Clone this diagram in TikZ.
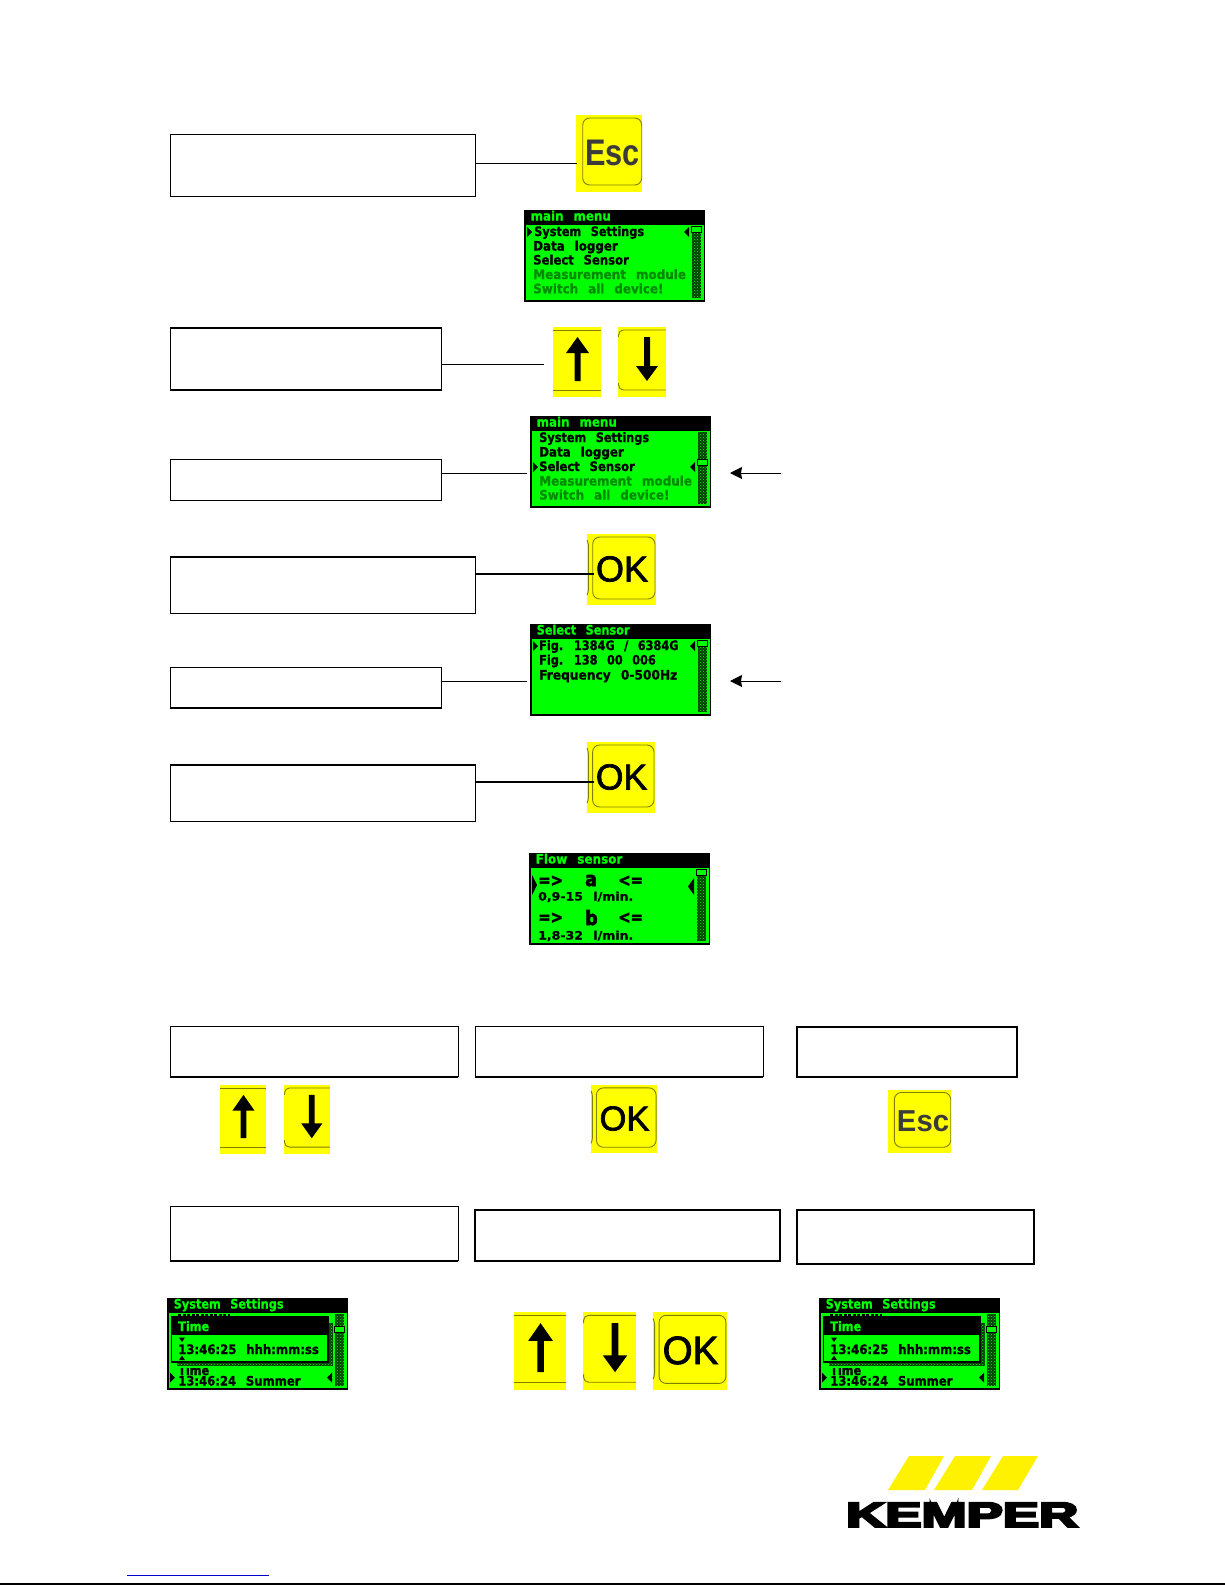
\documentclass[tikz,border=0pt]{standalone}
\usepackage{fontspec}
\setmainfont{Liberation Sans}
\newfontfamily\lcdf[UprightFont=* Bold,FakeBold=1,FakeStretch=.87,WordSpace=2.4]{DejaVu Sans}
\newfontfamily\lcdb[UprightFont=* Bold,FakeBold=3,FakeStretch=.87]{DejaVu Sans}
\newfontfamily\logof[UprightFont=* Bold,FakeBold=6]{Liberation Sans}
\newfontfamily\keyf[FakeBold=2]{Liberation Sans}
\newfontfamily\escf[UprightFont=* Bold]{Liberation Sans}
\usetikzlibrary{arrows.meta,patterns}
\definecolor{lcdgreen}{HTML}{00FF00}
\definecolor{lcddim}{HTML}{008C00}
\definecolor{trackdark}{HTML}{003C00}
\definecolor{keyyellow}{HTML}{FFFF00}
\definecolor{keyline}{HTML}{7F7F00}
\definecolor{logoyellow}{HTML}{FFF200}
\newcounter{tc}
\tikzset{
  label box/.style={draw=black,line width=1pt,fill=white,anchor=north west,inner sep=0pt,outer sep=0pt},
  heavy box/.style={draw=black,line width=2pt,fill=white,anchor=north west,inner sep=0pt,outer sep=0pt},
  conn/.style={draw=black,line width=1pt},
  thick conn/.style={draw=black,line width=2pt},
  edge heavy/.style={draw=black,line width=2pt,line cap=square},
  ptr/.style={draw=black,line width=1pt,-{Stealth[length=12pt,width=12pt,inset=1pt]}},
  key bg/.style={fill=keyyellow,anchor=north west,inner sep=0pt,transform shape},
  key outline/.style={draw=keyline,line width=0.9pt},
  lcd frame/.style={fill=black,anchor=north west,inner sep=0pt,minimum width=181pt,minimum height=91.5pt},
  lcd text/.style={anchor=base west,inner sep=0pt,yshift=1pt,font=\lcdf\fontsize{13}{13}\selectfont},
}
% label box: name, x0, y0, x1, y1
\newcommand\lbox[5]{\node[label box,minimum width=#4-#2,minimum height=#5-#3] (#1) at (#2,#3) {};}
\newcommand\hvbox[5]{\node[heavy box,minimum width=#4-#2,minimum height=#5-#3] (#1) at (#2,#3) {};}
\newcommand\topheavy[1]{\draw[edge heavy] (#1.north west)--(#1.north east);}
\newcommand\botheavy[1]{\draw[edge heavy] (#1.south west)--(#1.south east);}
% LCD text: x, baseline, colour, text
\newcommand\lt[4]{\stepcounter{tc}\node[lcd text,text=#3] (t\arabic{tc}) at (#1,#2) {#4};}
\newcommand\ls[2]{\scalebox{#1}[1]{#2}}
\newcommand\mleft[1]{\fill[black] (3,#1-5)--(8,#1)--(3,#1+5)--cycle;}
\newcommand\mright[1]{\fill[black] (165,#1-5)--(160,#1)--(165,#1+5)--cycle;}
\newcommand\dotted[4]{\fill[trackdark] (#1,#2) rectangle (#3,#4);\fill[pattern=crosshatch dots,pattern color=lcdgreen] (#1,#2) rectangle (#3,#4);}
% screen: name, x, y, title, thumb top, content
\newcommand\screen[6]{%
  \node[lcd frame] (#1) at (#2,#3) {};
  \begin{scope}[shift={(#2,#3)}]
    \fill[lcdgreen] (1.5,15) rectangle (179.5,90);
    \dotted{168}{16}{177}{88}
    \fill[lcdgreen,draw=black,line width=1pt] (167.5,#5) rectangle (177.5,#5+6);
    \lt{6.5}{11.5}{lcdgreen}{#4}
    #6
  \end{scope}}
\newcommand\okkey[5]{%
  \begin{scope}[shift={(#2,#3)},xscale=#4/69,yscale=#5/71]
    \node[key bg,minimum width=69pt,minimum height=71pt] (#1) at (0,0) {};
    \draw[key outline,rounded corners=7] (5.7,3) rectangle (68,65);
    \draw[key outline,rounded corners=3] (0,6)--(1.5,9)--(1.5,58)--(0,61);
    \stepcounter{tc}\node[inner sep=0pt,transform shape,font=\keyf\fontsize{36}{36}\selectfont] (t\arabic{tc}) at (35,35) {OK};
  \end{scope}}
\newcommand\esckey[5]{%
  \begin{scope}[shift={(#2,#3)},xscale=#4/66,yscale=#5/77]
    \node[key bg,minimum width=66pt,minimum height=77pt] (#1) at (0,0) {};
    \draw[key outline,rounded corners=7] (6.7,3) rectangle (65.7,70);
    \stepcounter{tc}\node[inner sep=0pt,transform shape,text=black!77,font=\escf\fontsize{37}{37}\selectfont] (t\arabic{tc}) at (36.7,37.7) {\scalebox{.83}[1]{Esc}};
  \end{scope}}
\newcommand\upkey[5]{%
  \begin{scope}[shift={(#2,#3)},xscale=#4/48,yscale=#5/70]
    \node[key bg,minimum width=48pt,minimum height=70pt] (#1) at (0,0) {};
    \draw[key outline] (0,3)--(48,3) (0,63)--(48,63);
    \fill[black] (24.5,10)--(36,26)--(27.5,26)--(27.5,54)--(21.5,54)--(21.5,26)--(13,26)--cycle;
  \end{scope}}
\newcommand\downkey[5]{%
  \begin{scope}[shift={(#2,#3)},xscale=#4/48,yscale=#5/70]
    \node[key bg,minimum width=48pt,minimum height=70pt] (#1) at (0,0) {};
    \draw[key outline,rounded corners=5] (48,3)--(0.5,3)--(0.5,10) (0.5,56)--(0.5,63)--(48,63);
    \fill[black] (29,54)--(40,39)--(32,39)--(32,10)--(26,10)--(26,39)--(18,39)--cycle;
  \end{scope}}
\newcommand\timepopup{%
  \draw[black,line width=2.4pt,dash pattern=on 3pt off 1.5pt] (11,17.6)--(63,17.6);
  \lt{11}{78}{black}{Time}
  \lt{11}{88.5}{black}{\ls{1.03}{13:46:24 Summer}}
  \mleft{79.5}\mright{79.5}
  \fill[lcdgreen] (2,64) rectangle (167,69.5);
  \dotted{161}{25}{166}{68}
  \dotted{10}{64}{166}{68}
  \fill[lcdgreen,draw=black,line width=1.2pt] (4.5,19) rectangle (161,64);
  \fill[black] (4.5,19) rectangle (161,37);
  \lt{11}{34}{lcdgreen}{Time}
  \lt{11}{57}{black}{\ls{1.035}{13:46:25 hhh:mm:ss}}
  \fill[black] (12,39.5)--(18,39.5)--(15,44)--cycle;
  \fill[black] (12,62)--(18,62)--(15,57.5)--cycle;
}
\newcommand\bigt[1]{\lcdb\fontsize{#1}{#1}\selectfont}
\begin{document}
\begin{tikzpicture}[x=1pt,y=-1pt]
\useasboundingbox (0,0) rectangle (1225,1585);
\fill[white] (0,0) rectangle (1225,1585);

% boxes
\lbox{b1}{170.3}{134.5}{475.3}{196}
\lbox{b2}{170.3}{327.7}{441.7}{389.7}
\lbox{b3}{170.3}{459.3}{441.7}{500.3}
\lbox{b4}{170.3}{556.7}{475.3}{613.3}
\lbox{b5}{170.3}{667.3}{441.7}{707.7}
\lbox{b6}{170.3}{764.7}{475.3}{821.3}
\lbox{b7}{170.3}{1026.3}{458.3}{1076.7}
\lbox{b8}{475.3}{1026.3}{763.3}{1076.7}
\hvbox{b9}{797}{1026.5}{1017}{1076.7}
\lbox{b10}{170.3}{1206.3}{458.3}{1260.7}
\hvbox{b11}{475.3}{1210}{780}{1260.7}
\hvbox{b12}{797}{1210}{1034.3}{1264}
\topheavy{b2}\botheavy{b2}\topheavy{b4}\botheavy{b5}\topheavy{b6}
\botheavy{b7}\botheavy{b8}\botheavy{b10}

% keys
\esckey{esc1}{576}{115}{66}{77}
\upkey{up1}{553}{327}{48}{70}
\downkey{down1}{618}{327}{48}{70}
\okkey{ok1}{587}{534}{69}{71}
\okkey{ok2}{587}{742}{68}{71}
\upkey{up2}{220}{1085}{46}{69}
\downkey{down2}{284}{1085}{46}{69}
\okkey{ok3}{591}{1085}{66}{68}
\esckey{esc2}{888}{1090}{63}{63}
\upkey{up3}{514}{1312}{52}{78}
\downkey{down3}{583}{1312}{53}{78}
\okkey{ok4}{653}{1312}{74}{78}

% screens
\screen{s1}{524}{210}{\ls{1.05}{main menu}}{16.5}{%
  \mleft{22}\mright{22}
  \lt{10}{27}{black}{System Settings}
  \lt{9}{41.5}{black}{\ls{1.05}{Data logger}}
  \lt{9}{55.5}{black}{\ls{1.03}{Select Sensor}}
  \lt{9}{70}{lcddim}{\ls{1.06}{Measurement module}}
  \lt{9}{84.3}{lcddim}{\ls{1.055}{Switch all device!}}
}
\screen{s2}{530}{416}{\ls{1.05}{main menu}}{43.5}{%
  \mleft{51}\mright{51}
  \lt{9}{27}{black}{System Settings}
  \lt{9}{41.5}{black}{\ls{1.05}{Data logger}}
  \lt{9}{56}{black}{\ls{1.03}{Select Sensor}}
  \lt{9}{70.5}{lcddim}{\ls{1.06}{Measurement module}}
  \lt{9}{84.5}{lcddim}{\ls{1.055}{Switch all device!}}
}
\screen{s3}{530}{624}{Select Sensor}{16.5}{%
  \mleft{22}\mright{22}
  \lt{9}{27}{black}{Fig. 1384G / 6384G}
  \lt{9}{41.5}{black}{Fig. 138 00 006}
  \lt{9}{56.5}{black}{\ls{1.08}{Frequency 0-500Hz}}
}
\screen{s4}{529}{853}{\ls{1.06}{Flow sensor}}{16.5}{%
  \fill[black] (3,22)--(8,32)--(3,42)--cycle;
  \fill[black] (165,25)--(159,33.5)--(165,42)--cycle;
  \lt{9}{34}{black}{\bigt{17}=>}
  \lt{56}{34}{black}{\bigt{20}a}
  \lt{89}{34}{black}{\bigt{17}<=}
  \lt{9}{48.5}{black}{\fontsize{11.5}{11.5}\selectfont\ls{1.25}{0,9-15 l/min.}}
  \lt{9}{71}{black}{\bigt{17}=>}
  \lt{56}{73}{black}{\bigt{20}b}
  \lt{89}{71}{black}{\bigt{17}<=}
  \lt{9}{87.5}{black}{\fontsize{11.5}{11.5}\selectfont\ls{1.25}{1,8-32 l/min.}}
}
\screen{s5}{167}{1298}{System Settings}{28}{\timepopup}
\screen{s6}{819}{1298}{System Settings}{28}{\timepopup}

% connectors
\coordinate (c1) at (577,163);
\coordinate (c2) at (543.5,364);
\coordinate (c3) at (527,473);
\coordinate (c4) at (594,574);
\coordinate (c5) at (527,681);
\coordinate (c6) at (594,782);
\draw[conn] (b1.east|-c1)--(c1);
\draw[conn] (b2.east|-c2)--(c2);
\draw[conn] (b3.east|-c3)--(c3);
\draw[thick conn] (b4.east|-c4)--(c4);
\draw[conn] (b5.east|-c5)--(c5);
\draw[thick conn] (b6.east|-c6)--(c6);
\coordinate (p1a) at (781,473); \coordinate (p1b) at (730,473);
\coordinate (p2a) at (781,681); \coordinate (p2b) at (730,681);
\draw[ptr] (p1a)--(p1b);
\draw[ptr] (p2a)--(p2b);

% logo
\fill[logoyellow] (888,1490)--(909,1456)--(944,1456)--(925,1490)--cycle;
\fill[logoyellow] (934,1490)--(955,1456)--(991,1456)--(972,1490)--cycle;
\fill[logoyellow] (982,1490)--(1003,1456)--(1038,1456)--(1018,1490)--cycle;
\node[inner sep=0pt,anchor=south west] (logo) at (846,1527) {\resizebox{232pt}{24pt}{\logof KEMPER}};

% footer
\draw[draw=blue!80!black,line width=1pt] (127,1575)--(269,1575);
\draw[black,line width=1.2pt] (0,1584)--(1225,1584);
\end{tikzpicture}
\end{document}
